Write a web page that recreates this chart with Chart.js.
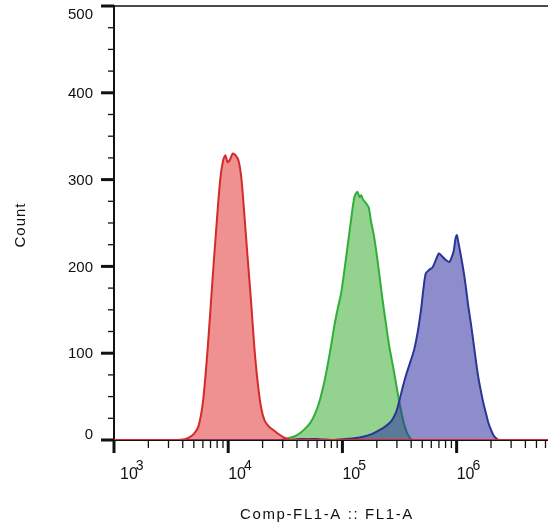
<!DOCTYPE html>
<html>
<head>
<meta charset="utf-8">
<script src="https://cdn.jsdelivr.net/npm/chart.js@4.4.1/dist/chart.umd.min.js"></script>
<style>
  html, body { margin: 0; padding: 0; background: #fff; }
  canvas { display: block; }
</style>
</head>
<body>
<canvas id="myChart" width="548" height="526"></canvas>
<script>
// histogram data, x given as log10 of the FL1-A intensity
const redLog = [3.0, 3.55, 3.62, 3.66, 3.70, 3.74, 3.78, 3.82, 3.86, 3.90, 3.93, 3.955, 3.975, 3.995, 4.015, 4.04, 4.065, 4.09, 4.115, 4.14, 4.17, 4.20, 4.23, 4.26, 4.29, 4.32, 4.36, 4.40, 4.45, 4.50, 4.55, 6.8];
const redCount = [0, 0, 1, 3, 7, 16, 45, 105, 180, 252, 300, 322, 328, 320, 323, 330, 328, 322, 302, 262, 210, 160, 105, 64, 36, 22, 15, 11, 6, 2, 0, 0];

const greenLog = [3.0, 4.45, 4.52, 4.58, 4.63, 4.68, 4.72, 4.76, 4.80, 4.84, 4.87, 4.90, 4.93, 4.96, 4.99, 5.02, 5.05, 5.08, 5.105, 5.13, 5.15, 5.165, 5.18, 5.20, 5.23, 5.25, 5.275, 5.30, 5.32, 5.35, 5.38, 5.41, 5.45, 5.48, 5.51, 5.54, 5.57, 5.60, 5.62, 6.8];
const greenCount = [0, 0, 2, 4, 8, 14, 20, 30, 45, 66, 86, 108, 132, 152, 170, 198, 228, 258, 280, 286, 280, 282, 277, 274, 268, 252, 236, 214, 194, 163, 135, 108, 80, 57, 36, 18, 7, 1, 0, 0];

const blueLog = [3.0, 4.55, 4.60, 4.70, 4.80, 4.90, 5.00, 5.10, 5.19, 5.26, 5.32, 5.38, 5.43, 5.47, 5.50, 5.53, 5.56, 5.60, 5.63, 5.66, 5.69, 5.71, 5.73, 5.76, 5.79, 5.82, 5.845, 5.87, 5.90, 5.935, 5.955, 5.975, 5.99, 6.002, 6.015, 6.035, 6.06, 6.08, 6.10, 6.125, 6.15, 6.17, 6.19, 6.21, 6.235, 6.26, 6.28, 6.30, 6.32, 6.345, 6.37, 6.8];
const blueCount = [0, 0, 1, 1, 1, 0, 1, 2, 4, 7, 11, 16, 22, 32, 46, 62, 76, 92, 105, 125, 152, 175, 192, 196, 199, 208, 215, 212, 208, 205, 210, 218, 232, 236, 228, 214, 195, 177, 156, 134, 110, 90, 72, 58, 42, 29, 19, 12, 6, 2, 0, 0];

const yTickLabels = ['0', '100', '200', '300', '400', '500'];
const yMinorStep = 25;
const xDecades = [3, 4, 5, 6];
const xTitle = 'Comp-FL1-A :: FL1-A';
const yTitle = 'Count';

const toPoints = (logs, counts) => logs.map((l, i) => ({ x: Math.pow(10, l), y: counts[i] }));

const FONT = '"Liberation Sans", Arial, sans-serif';

const axisDecor = {
  id: 'axisDecor',
  afterDraw(chart) {
    const { ctx, chartArea: a, scales: { x, y } } = chart;
    const line = (x1, y1, x2, y2) => { ctx.beginPath(); ctx.moveTo(x1, y1); ctx.lineTo(x2, y2); ctx.stroke(); };
    ctx.save();
    ctx.strokeStyle = '#111';
    ctx.fillStyle = '#111';

    // top frame line
    ctx.lineWidth = 1.5;
    line(a.left, a.top, a.right, a.top);

    // y ticks
    const yMax = Number(yTickLabels[yTickLabels.length - 1]);
    for (let v = 0; v <= yMax; v += yMinorStep) {
      const py = y.getPixelForValue(v);
      const major = yTickLabels.includes(String(v));
      ctx.lineWidth = major ? 3 : 1.3;
      line(a.left - (major ? 13 : 6), py, a.left, py);
    }
    ctx.font = '15px ' + FONT;
    ctx.textAlign = 'right';
    ctx.textBaseline = 'middle';
    yTickLabels.forEach(t => {
      let py = y.getPixelForValue(Number(t)) + 1;
      py = Math.min(Math.max(py, a.top + 9), a.bottom - 5);
      ctx.fillText(t, a.left - 21, py);
    });

    // x ticks (log)
    xDecades.forEach(e => {
      for (let m = 1; m <= 9; m++) {
        const v = m * Math.pow(10, e);
        if (v > x.max) break;
        const px = x.getPixelForValue(v);
        ctx.lineWidth = m === 1 ? 3 : 1.3;
        line(px, a.bottom, px, a.bottom + (m === 1 ? 13 : 8));
      }
    });
    ctx.textAlign = 'left';
    ctx.textBaseline = 'alphabetic';
    xDecades.forEach(e => {
      const px = x.getPixelForValue(Math.pow(10, e));
      const left = Math.max(px, a.left + 6);
      ctx.font = '16px ' + FONT;
      ctx.fillText('10', left, a.bottom + 39);
      const w = ctx.measureText('10').width;
      ctx.font = '14px ' + FONT;
      ctx.fillText(String(e), left + w - 2, a.bottom + 30);
    });

    // axis titles
    ctx.font = '15px ' + FONT;
    ctx.letterSpacing = '1.6px';
    ctx.textAlign = 'center';
    ctx.fillText(xTitle, (a.left + a.right) / 2 - 4, a.bottom + 79);

    ctx.letterSpacing = '1px';
    ctx.translate(21, (a.top + a.bottom) / 2 + 2);
    ctx.rotate(-Math.PI / 2);
    ctx.textBaseline = 'middle';
    ctx.fillText(yTitle, 0, 0);
    ctx.restore();
  }
};

const mk = (logs, counts, line, fill) => ({
  data: toPoints(logs, counts),
  borderColor: line,
  backgroundColor: fill,
  borderWidth: 2,
  pointRadius: 0,
  tension: 0.25,
  fill: 'origin'
});

const ctx = document.getElementById('myChart').getContext('2d');
const myChart = new Chart(ctx, {
  type: 'line',
  data: {
    datasets: [
      mk(redLog, redCount, '#d42a2a', 'rgba(225, 45, 45, 0.52)'),
      mk(blueLog, blueCount, '#2a3596', 'rgba(45, 45, 160, 0.54)'),
      mk(greenLog, greenCount, '#2fae3a', 'rgba(50, 170, 40, 0.52)')
    ]
  },
  options: {
    responsive: false,
    animation: false,
    layout: { padding: { top: 6, right: 0, left: 0, bottom: 0 } },
    plugins: { legend: { display: false }, tooltip: { enabled: false } },
    scales: {
      x: {
        type: 'logarithmic',
        min: 1000,
        max: Math.pow(10, 6.8),
        ticks: { display: false },
        grid: { display: false },
        border: { display: true, color: '#111', width: 2 },
        afterFit: s => { s.height = 86; }
      },
      y: {
        min: 0,
        max: 500,
        ticks: { display: false },
        grid: { display: false },
        border: { display: true, color: '#111', width: 2 },
        afterFit: s => { s.width = 114; }
      }
    }
  },
  plugins: [axisDecor]
});
</script>
</body>
</html>
